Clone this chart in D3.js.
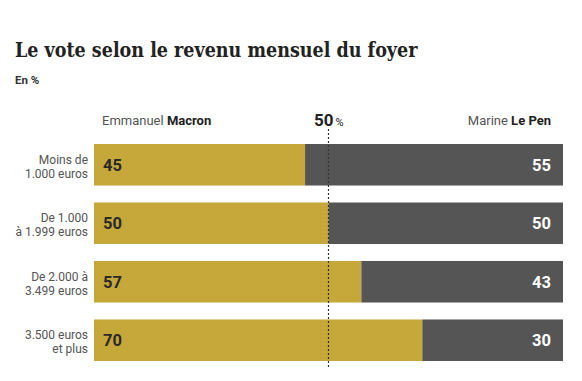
<!DOCTYPE html>
<html><head><meta charset="utf-8">
<script src="https://cdn.jsdelivr.net/npm/d3@7"></script>
<style>
body{margin:0;background:#fff;}
svg{display:block;}
</style></head>
<body>
<svg id="c" width="582" height="381"></svg>
<script>
const categories = [["Moins de","1.000 euros"],["De 1.000","à 1.999 euros"],["De 2.000 à","3.499 euros"],["3.500 euros","et plus"]];
const macron = [45, 50, 57, 70];
const lepen = [55, 50, 43, 30];
const refValue = 50;

const svg = d3.select("#c");
const sans = "Roboto, 'Open Sans', sans-serif";
const gold = "#c6a73a", gray = "#555555";

svg.append("text").attr("x",15).attr("y",57)
  .attr("font-family","'DejaVu Serif Condensed', 'DejaVu Serif', serif").attr("font-stretch","condensed").attr("font-weight","bold")
  .attr("font-size",19.5).attr("fill","#222").text("Le vote selon le revenu mensuel du foyer");
svg.append("text").attr("x",15).attr("y",84)
  .attr("font-family",sans).attr("font-weight","bold")
  .attr("font-size",11.5).attr("fill","#333").text("En %");

const x = d3.scaleLinear().domain([0,100]).range([94,563]);
const y = d3.scaleBand().domain(d3.range(categories.length)).range([144,361]).paddingInner(0.29).paddingOuter(0);

const g = svg.append("g");
const rows = g.selectAll("g.row").data(categories).join("g").attr("class","row");

rows.append("rect").attr("x",x(0)).attr("y",(d,i)=>y(i))
  .attr("width",(d,i)=>x(macron[i])-x(0)).attr("height",y.bandwidth()).attr("fill",gold);
rows.append("rect").attr("x",(d,i)=>x(macron[i])).attr("y",(d,i)=>y(i))
  .attr("width",(d,i)=>x(100)-x(macron[i])).attr("height",y.bandwidth()).attr("fill",gray);

rows.append("text").attr("x",x(0)+9).attr("y",(d,i)=>y(i)+y.bandwidth()/2+6)
  .attr("font-family",sans).attr("font-weight","bold").attr("font-size",16.5)
  .attr("fill","#2a2a2a").text((d,i)=>macron[i]);
rows.append("text").attr("x",x(100)-12).attr("y",(d,i)=>y(i)+y.bandwidth()/2+6)
  .attr("text-anchor","end").attr("font-family",sans).attr("font-weight","bold").attr("font-size",16.5)
  .attr("fill","#fff").text((d,i)=>lepen[i]);

rows.each(function(d,i){
  const t = d3.select(this).append("text").attr("text-anchor","end")
    .attr("font-family",sans).attr("font-size",12).attr("fill","#555");
  d.forEach((line,j)=>{
    t.append("tspan").attr("x",88).attr("y",y(i)+y.bandwidth()/2 - 1 + (j*14)).text(line);
  });
});

// reference line
g.append("line").attr("x1",x(refValue)).attr("x2",x(refValue)).attr("y1",129).attr("y2",368)
  .attr("stroke","#333").attr("stroke-width",1.2).attr("stroke-dasharray","2,2");

// headers
const h1 = svg.append("text").attr("x",102).attr("y",125).attr("font-family",sans).attr("font-size",13).attr("fill","#555");
h1.append("tspan").text("Emmanuel ");
h1.append("tspan").attr("font-weight","bold").attr("fill","#222").text("Macron");
const h2 = svg.append("text").attr("x",551).attr("y",125).attr("text-anchor","end").attr("font-family",sans).attr("font-size",13).attr("fill","#555");
h2.append("tspan").text("Marine ");
h2.append("tspan").attr("font-weight","bold").attr("fill","#222").text("Le Pen");
const h3 = svg.append("text").attr("x",314).attr("y",126).attr("font-family",sans).attr("fill","#222");
h3.append("tspan").attr("font-weight","bold").attr("font-size",17).text(refValue);
h3.append("tspan").attr("font-size",11).attr("dx",2).text("%");
</script>
</body></html>
